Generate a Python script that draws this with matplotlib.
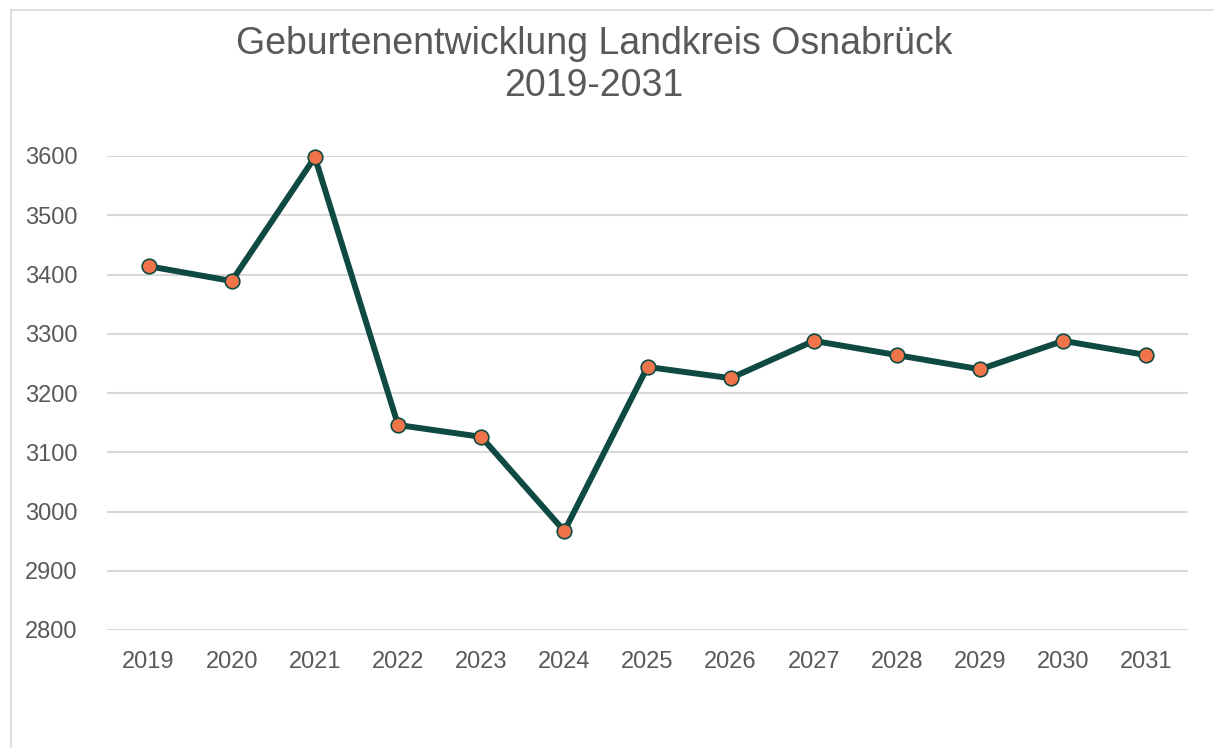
import matplotlib.pyplot as plt
from matplotlib.lines import Line2D

years = ['2019', '2020', '2021', '2022', '2023', '2024', '2025',
         '2026', '2027', '2028', '2029', '2030', '2031']
geburten = [3414, 3389, 3598, 3146, 3126, 2967, 3244,
            3225, 3288, 3264, 3240, 3288, 3264]
yticks = [2800, 2900, 3000, 3100, 3200, 3300, 3400, 3500, 3600]

plt.rcParams['font.family'] = ['Liberation Sans', 'DejaVu Sans']

fig = plt.figure(figsize=(12.14, 7.48), dpi=100)
ax = fig.add_axes([107 / 1214, 1 - 630 / 748, (1188 - 107) / 1214, (630 - 156) / 748])

grau = '#595959'
x = list(range(len(years)))
ax.plot(x, geburten, color='#0f4a42', linewidth=4.3, marker='o',
        markersize=10.5, markerfacecolor='#f0744a', markeredgecolor='#0f4a42',
        markeredgewidth=1.2, zorder=3, clip_on=False)

ax.set_xlim(-0.5, len(years) - 0.5)
ax.set_ylim(2800, 3600)
ax.set_yticks(yticks)
ax.set_xticks(x)
ax.set_xticklabels(years)
ax.yaxis.grid(True, color='#d9d9d9', linewidth=1.5)
ax.set_axisbelow(True)
for s in ax.spines.values():
    s.set_visible(False)
ax.tick_params(axis='both', length=0, labelsize=17, colors=grau)
ax.tick_params(axis='y', pad=21)
ax.tick_params(axis='x', pad=15)

fig.text(594 / 1214, 1 - 65 / 748, 'Geburtenentwicklung Landkreis Osnabrück\n2019-2031',
         ha='center', va='center', fontsize=27, color=grau, linespacing=1.2)

# Rahmen
fig.add_artist(Line2D([10.5 / 1214, 10.5 / 1214], [0, 1 - 9.5 / 748],
                      transform=fig.transFigure, color='#d9d9d9', linewidth=1.2))
fig.add_artist(Line2D([10.5 / 1214, 1], [1 - 9.5 / 748, 1 - 9.5 / 748],
                      transform=fig.transFigure, color='#d9d9d9', linewidth=1.2))

fig.savefig('out.png', dpi=100)
